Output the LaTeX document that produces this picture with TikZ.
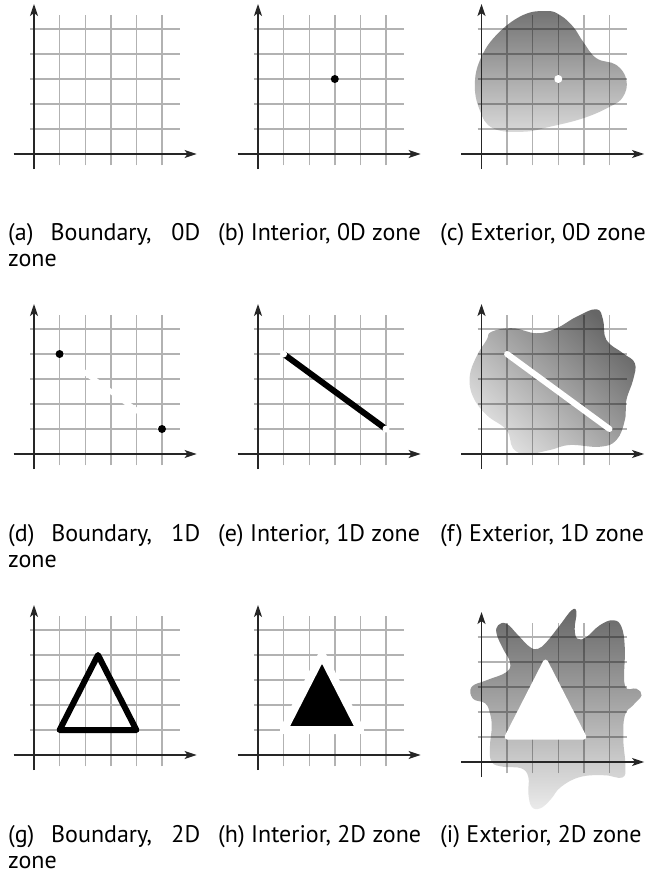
\documentclass[tikz,border=0pt]{standalone}
\usepackage{fontspec}
\setmainfont{PT Sans}
\usetikzlibrary{arrows.meta}
\begin{document}
\begin{tikzpicture}[x=1pt,y=1pt]
\tikzset{
 gridline/.style={black, opacity=0.3, line width=1.4pt},
 axisline/.style={black!85, line width=1.2pt, -{Stealth[length=12pt,width=8pt,inset=3pt]}},
 captext/.style={anchor=base west, inner sep=0pt, font=\fontsize{24}{28}\selectfont},
 pa/.style={shift={(34pt,-154pt)}, x=25.6pt, y=25pt},
 pb/.style={shift={(258pt,-154pt)}, x=25.6pt, y=25pt},
 pc/.style={shift={(481.5pt,-154pt)}, x=25.6pt, y=25pt},
 pd/.style={shift={(34pt,-454pt)}, x=25.6pt, y=25pt},
 pe/.style={shift={(258pt,-454pt)}, x=25.6pt, y=25pt},
 pf/.style={shift={(481.5pt,-454pt)}, x=25.6pt, y=25pt},
 pg/.style={shift={(34pt,-755pt)}, x=25.6pt, y=25pt},
 ph/.style={shift={(258pt,-755pt)}, x=25.6pt, y=25pt},
 pi/.style={shift={(481.5pt,-762pt)}, x=25.6pt, y=25pt},
}
\newcommand\gridaxes[1]{%
 \begin{scope}[#1]
  \draw[gridline] \foreach \k in {1,...,5}{(-0.15,\k) -- (5.7,\k) (\k,-0.45) -- (\k,5.55)};
  \draw[axisline] (-0.8,0) -- (6.35,0);
  \draw[axisline] (0,-0.6) -- (0,6.0);
 \end{scope}}
\useasboundingbox (0,0) rectangle (652,-876);
\fill[white] (0,0) rectangle (652,-876);

% (a)
\gridaxes{pa}
% (b)
\gridaxes{pb}
\begin{scope}[pb] \fill[black] (3,3) circle (4pt); \end{scope}
% (c)
\begin{scope}[pc]
 \shade[top color=black!55, bottom color=black!15] plot[smooth cycle, tension=0.7] coordinates {
 (2.54,5.72) (3.06,5.56) (3.58,5.09) (3.97,4.49) (4.49,3.83) (5.27,3.56) (5.66,2.96) (5.53,2.29)
 (5.01,1.89) (3.97,1.43) (2.67,1.09) (1.63,0.89) (0.45,1.03) (-0.07,1.76) (-0.26,2.83) (0,3.89)
 (0.65,4.83) (1.63,5.56)};
\end{scope}
\gridaxes{pc}
\begin{scope}[pc] \fill[white] (3,3) circle (4pt); \end{scope}

% (d)
\gridaxes{pd}
\begin{scope}[pd]
 \draw[white, line width=5pt] (1,4) -- (5,1);
 \fill[black] (1,4) circle (4pt) (5,1) circle (4pt);
\end{scope}
% (e)
\gridaxes{pe}
\begin{scope}[pe]
 \draw[black, line width=6pt] (1,4) -- (5,1);
 \fill[white] (1,4) circle (3.5pt) (5,1) circle (3.5pt);
\end{scope}
% (f)
\begin{scope}[pf]
 \shade[top color=black!60, bottom color=black!12, shading angle=-45] plot[smooth cycle, tension=0.7] coordinates {
 (0.39,4.89) (1.23,5.03) (2.15,4.83) (2.93,5.03) (3.71,5.49) (4.49,5.79) (4.75,5.36) (4.88,4.56)
 (5.53,4.03) (5.99,3.63) (5.92,2.96) (5.66,2.16) (5.60,1.36) (5.27,0.56) (4.62,0.29) (3.45,0.36)
 (2.67,0.16) (1.76,0.0) (1.23,0.23) (0.98,0.96) (0.2,1.56) (-0.33,2.29) (-0.46,3.09) (-0.2,3.89)
 (0.2,4.56)};
\end{scope}
\gridaxes{pf}
\begin{scope}[pf]
 \draw[white, line width=6pt, line cap=round] (1,4) -- (5,1);
\end{scope}

% (g)
\gridaxes{pg}
\begin{scope}[pg]
 \draw[black, line width=6pt, line join=round] (1,1) -- (4,1) -- (2.5,4) -- cycle;
\end{scope}
% (h)
\gridaxes{ph}
\begin{scope}[ph]
 \filldraw[fill=black, draw=white, line width=8pt, line join=round] (1,1) -- (4,1) -- (2.5,4) -- cycle;
\end{scope}
% (i)
\begin{scope}[pi]
 \shade[top color=black!60, bottom color=black!8] plot[smooth cycle, tension=0.7] coordinates {
 (0.65,5.47) (0.98,5.53) (1.43,5.07) (1.89,4.6) (2.21,4.53) (2.54,4.8) (3.06,5.47) (3.52,6.07)
 (3.71,6.0) (3.64,5.33) (3.75,4.93) (4.1,5.0) (4.62,5.47) (5.14,5.67) (5.47,5.4) (5.6,4.53)
 (5.6,3.07) (6.05,2.93) (6.25,2.67) (5.92,2.27) (5.6,1.87) (5.54,0.9) (5.62,-0.15) (5.5,-0.62)
 (4.8,-0.53) (3.85,-0.6) (3.1,-1.0) (2.7,-1.5) (2.3,-1.85) (1.96,-1.79) (1.83,-1.25) (1.83,-0.6)
 (1.55,-0.25) (0.85,-0.19) (0.4,0.0) (0.33,0.61) (0.4,1.41) (0.33,1.95) (0.14,2.35)
 (-0.33,2.53) (-0.39,3.0) (0.2,3.27) (0.98,3.6) (1.11,4.0) (0.84,4.53) (0.59,5.13)};
\end{scope}
\gridaxes{pi}
\begin{scope}[pi]
 \filldraw[white, line width=5pt, line join=round] (1,1) -- (4,1) -- (2.5,4) -- cycle;
\end{scope}

% captions
\node[captext] (capa1) at (8,-240) {\makebox[192pt][s]{(a) Boundary, 0D}};
\node[captext] (capa2) at (8,-266) {zone};
\node[captext] (capb) at (218,-240) {(b) Interior, 0D zone};
\node[captext] (capc) at (440,-240) {(c) Exterior, 0D zone};
\node[captext] (capd1) at (8,-541) {\makebox[192pt][s]{(d) Boundary, 1D}};
\node[captext] (capd2) at (8,-567) {zone};
\node[captext] (cape) at (218,-541) {(e) Interior, 1D zone};
\node[captext] (capf) at (440,-541) {(f) Exterior, 1D zone};
\node[captext] (capg1) at (8,-842) {\makebox[192pt][s]{(g) Boundary, 2D}};
\node[captext] (capg2) at (8,-868) {zone};
\node[captext] (caph) at (218,-842) {(h) Interior, 2D zone};
\node[captext] (capi) at (440,-842) {(i) Exterior, 2D zone};
\end{tikzpicture}
\end{document}
